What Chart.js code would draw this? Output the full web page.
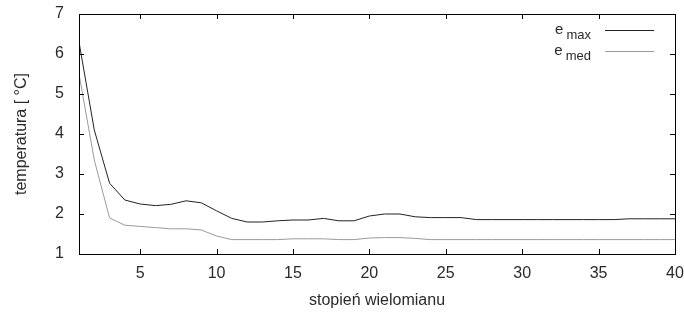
<!DOCTYPE html>
<html lang="pl">
<head>
<meta charset="UTF-8">
<title>chart</title>
<style>
  html, body { margin: 0; padding: 0; background: #fff; }
  #wrap { width: 684px; height: 315px; }
</style>
</head>
<body>
<div id="wrap"><canvas id="myChart" width="684" height="315"></canvas></div>
<script src="https://cdn.jsdelivr.net/npm/chart.js"></script>
<script>
const degrees = [1,2,3,4,5,6,7,8,9,10,11,12,13,14,15,16,17,18,19,20,
                 21,22,23,24,25,26,27,28,29,30,31,32,33,34,35,36,37,38,39,40]
const eMax = [6.3, 4.1, 2.77, 2.35, 2.25, 2.21, 2.24, 2.33, 2.28, 2.08,
              1.89, 1.80, 1.80, 1.83, 1.85, 1.85, 1.89, 1.83, 1.83, 1.95,
              2.0, 2.0, 1.93, 1.91, 1.91, 1.91, 1.86, 1.86, 1.86, 1.86,
              1.86, 1.86, 1.86, 1.86, 1.86, 1.86, 1.88, 1.88, 1.88, 1.88]
const eMed = [5.5, 3.35, 1.9, 1.72, 1.69, 1.66, 1.63, 1.63, 1.6, 1.45,
              1.36, 1.36, 1.36, 1.36, 1.38, 1.38, 1.38, 1.36, 1.36, 1.40,
              1.41, 1.41, 1.39, 1.36, 1.36, 1.36, 1.36, 1.36, 1.36, 1.36,
              1.36, 1.36, 1.36, 1.36, 1.36, 1.36, 1.36, 1.36, 1.36, 1.36]
const xTicks = [5, 10, 15, 20, 25, 30, 35, 40]
const yTicks = [1, 2, 3, 4, 5, 6, 7]
const seriesNames = [['e', 'max'], ['e', 'med']]
const seriesColors = ['#222222', '#9a9a9a']

const FONT = "'Liberation Sans', Arial, sans-serif"
const textColor = '#2a2a2a'

// gnuplot-like frame with inward ticks on all sides + legend on the right
const framePlugin = {
  id: 'frame',
  afterDatasetsDraw(chart) {
    const {ctx, chartArea: a, scales: {x, y}} = chart
    ctx.save()
    ctx.strokeStyle = '#000'
    ctx.lineWidth = 1
    ctx.strokeRect(Math.round(a.left) + 0.5, Math.round(a.top) + 0.5,
                   Math.round(a.right - a.left), Math.round(a.bottom - a.top))
    ctx.beginPath()
    xTicks.forEach(v => {
      const px = Math.round(x.getPixelForValue(v)) + 0.5
      ctx.moveTo(px, a.bottom); ctx.lineTo(px, a.bottom - 5)
      ctx.moveTo(px, a.top); ctx.lineTo(px, a.top + 5)
    })
    yTicks.forEach(v => {
      const py = Math.round(y.getPixelForValue(v)) + 0.5
      ctx.moveTo(a.left, py); ctx.lineTo(a.left + 5, py)
      ctx.moveTo(a.right, py); ctx.lineTo(a.right - 5, py)
    })
    ctx.stroke()

    // legend: "e" + subscript, sample line on the right
    seriesNames.forEach((n, i) => {
      const yy = 29.5 + i * 21.5
      ctx.fillStyle = textColor
      ctx.textBaseline = 'alphabetic'
      ctx.textAlign = 'right'
      ctx.font = '13px ' + FONT
      const subW = ctx.measureText(n[1]).width
      ctx.fillText(n[1], 591, yy + 9)
      ctx.font = '15px ' + FONT
      ctx.fillText(n[0], 591 - subW - 3, yy + 4)
      ctx.strokeStyle = seriesColors[i]
      ctx.beginPath()
      ctx.moveTo(605, Math.round(yy) + 0.5); ctx.lineTo(654, Math.round(yy) + 0.5)
      ctx.stroke()
    })
    ctx.restore()
  }
}

new Chart(document.getElementById('myChart'), {
  type: 'line',
  data: {
    datasets: [eMax, eMed].map((arr, i) => ({
      label: seriesNames[i].join(''),
      data: degrees.map((d, k) => ({x: d, y: arr[k]})),
      borderColor: seriesColors[i],
      borderWidth: 1,
      pointRadius: 0,
      tension: 0,
      fill: false
    }))
  },
  options: {
    responsive: false,
    animation: false,
    events: [],
    layout: { padding: { top: 14, right: 9, left: 0, bottom: 0 } },
    plugins: { legend: { display: false }, tooltip: { enabled: false } },
    scales: {
      x: {
        type: 'linear',
        min: 1, max: 40,
        afterBuildTicks: s => { s.ticks = xTicks.map(v => ({value: v})) },
        afterFit: s => { s.height = 61; s.paddingLeft = 0; s.paddingRight = 0 },
        grid: { display: false, drawTicks: false },
        border: { display: false },
        ticks: { color: textColor, font: { family: FONT, size: 16 }, padding: 10, maxRotation: 0, autoSkip: false },
        title: { display: true, text: 'stopień wielomianu', color: textColor,
                 font: { family: FONT, size: 16 }, padding: { top: 0, bottom: 5 } }
      },
      y: {
        min: 1, max: 7,
        afterBuildTicks: s => { s.ticks = yTicks.map(v => ({value: v})) },
        afterFit: s => { s.width = 79; s.paddingTop = 0; s.paddingBottom = 0 },
        grid: { display: false, drawTicks: false },
        border: { display: false },
        ticks: { color: textColor, font: { family: FONT, size: 16 }, padding: 15 },
        title: { display: true, text: 'temperatura [ °C]', color: textColor,
                 font: { family: FONT, size: 16 }, padding: { top: 12, bottom: 0 } }
      }
    }
  },
  plugins: [framePlugin]
})
</script>
</body>
</html>
